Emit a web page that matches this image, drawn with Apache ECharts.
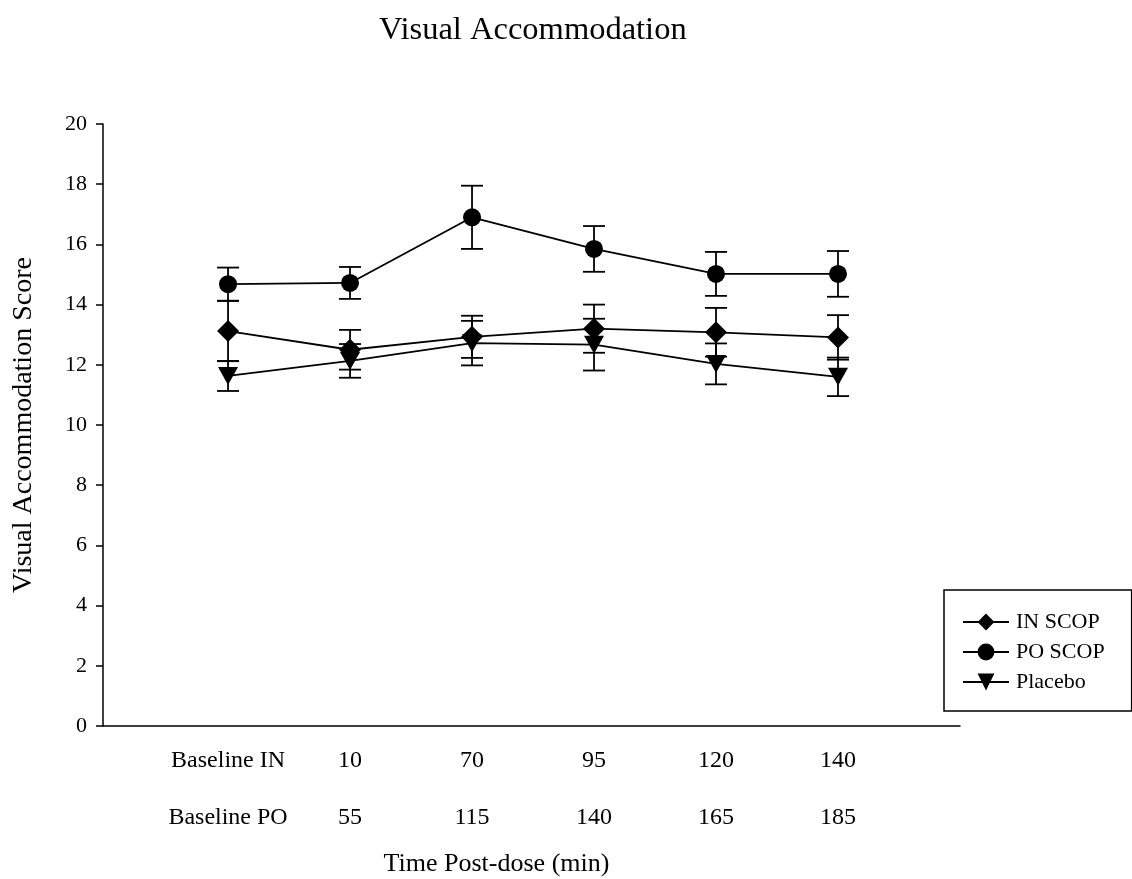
<!DOCTYPE html>
<html>
<head>
<meta charset="utf-8">
<script src="https://cdn.jsdelivr.net/npm/echarts@6/dist/echarts.min.js"></script>
<style>
  html, body { margin: 0; padding: 0; background: #fff; }
  #chart { width: 1132px; height: 879px; }
</style>
</head>
<body>
<div id="chart"></div>
<script>
// Time points (two dosing schedules share each position)
const timesIN = ['Baseline IN', '10', '70', '95', '120', '140'];
const timesPO = ['Baseline PO', '55', '115', '140', '165', '185'];

// Mean visual accommodation scores and error half-widths
const inScop = [13.12, 12.50, 12.93, 13.20, 13.08, 12.91];
const inScopErr = [1.00, 0.66, 0.70, 0.80, 0.81, 0.74];
const poScop = [14.68, 14.72, 16.90, 15.85, 15.02, 15.02];
const poScopErr = [0.55, 0.53, 1.05, 0.76, 0.73, 0.76];
const placebo = [11.63, 12.13, 12.72, 12.67, 12.03, 11.60];
const placeboErr = [0.50, 0.56, 0.74, 0.86, 0.68, 0.64];

const yTicks = [0, 2, 4, 6, 8, 10, 12, 14, 16, 18, 20];

const FONT = '"Liberation Serif", "DejaVu Serif", serif';
const TRIANGLE_DOWN = 'path://M0,0 L20,0 L10,18 Z';
const STROKE = 1.8;

const positions = timesIN.map((_, i) => i + 1);

function lineData(values) {
  return values.map((v, i) => [positions[i], v]);
}
function errData(values, errs) {
  return values.map((v, i) => [positions[i], v - errs[i], v + errs[i]]);
}

function errorBarSeries(name, values, errs) {
  return {
    type: 'custom',
    name: name + ' error',
    z: 1,
    silent: true,
    data: errData(values, errs),
    renderItem: function (params, api) {
      const x = api.value(0);
      const lo = api.coord([x, api.value(1)]);
      const hi = api.coord([x, api.value(2)]);
      const half = 11;
      const style = { stroke: '#000', lineWidth: STROKE };
      return {
        type: 'group',
        children: [
          { type: 'line', shape: { x1: lo[0], y1: lo[1], x2: hi[0], y2: hi[1] }, style: style },
          { type: 'line', shape: { x1: hi[0] - half, y1: hi[1], x2: hi[0] + half, y2: hi[1] }, style: style },
          { type: 'line', shape: { x1: lo[0] - half, y1: lo[1], x2: lo[0] + half, y2: lo[1] }, style: style }
        ]
      };
    }
  };
}

function lineSeries(name, values, symbol, size) {
  return {
    type: 'line',
    name: name,
    z: 3,
    data: lineData(values),
    symbol: symbol,
    symbolSize: size,
    showAllSymbol: true,
    lineStyle: { color: '#000', width: STROKE },
    itemStyle: { color: '#000', borderWidth: 0 },
    emphasis: { disabled: true }
  };
}

const chart = echarts.init(document.getElementById('chart'), null, { renderer: 'canvas' });

chart.setOption({
  backgroundColor: '#fff',
  animation: false,
  title: {
    text: 'Visual Accommodation',
    left: 374,
    top: 9,
    textStyle: { fontFamily: FONT, fontSize: 32.5, fontWeight: 'normal', color: '#000' }
  },
  legend: {
    orient: 'vertical',
    left: 944,
    top: 590,
    width: 180,
    padding: [21, 27, 18, 18],
    itemGap: 8,
    itemWidth: 46,
    itemHeight: 21,
    borderColor: '#000',
    borderWidth: 1.5,
    data: ['IN SCOP', 'PO SCOP', 'Placebo'],
    textStyle: { fontFamily: FONT, fontSize: 22, color: '#000', padding: [0, 0, 0, 2] }
  },
  grid: {
    left: 103, right: 172, top: 124, bottom: 153,
    containLabel: false,
    outerBoundsMode: 'none'
  },
  xAxis: {
    type: 'value',
    min: -0.025,
    max: 7,
    name: 'Time Post-dose (min)',
    nameLocation: 'middle',
    nameGap: 125,
    nameTextStyle: { fontFamily: FONT, fontSize: 26, color: '#000', padding: [0, 70, 0, 0] },
    axisLine: { show: true, onZero: false, lineStyle: { color: '#000', width: 1.5 } },
    axisTick: { show: false },
    splitLine: { show: false },
    axisLabel: {
      customValues: positions,
      margin: 20,
      fontFamily: FONT,
      fontSize: 24,
      color: '#000',
      lineHeight: 28.5,
      formatter: function (v) {
        const i = Math.round(v) - 1;
        return timesIN[i] + '\n\n' + timesPO[i];
      }
    }
  },
  yAxis: {
    type: 'value',
    min: yTicks[0],
    max: yTicks[yTicks.length - 1],
    interval: 2,
    name: 'Visual Accommodation Score',
    nameLocation: 'middle',
    nameGap: 65,
    nameTextStyle: { fontFamily: FONT, fontSize: 28, color: '#000' },
    axisLine: { show: true, onZero: false, lineStyle: { color: '#000', width: 1.5 } },
    axisTick: { show: true, inside: false, length: 7, lineStyle: { color: '#000', width: 1.5 } },
    splitLine: { show: false },
    axisLabel: { margin: 16, fontFamily: FONT, fontSize: 22, color: '#000' }
  },
  series: [
    errorBarSeries('IN SCOP', inScop, inScopErr),
    errorBarSeries('PO SCOP', poScop, poScopErr),
    errorBarSeries('Placebo', placebo, placeboErr),
    lineSeries('IN SCOP', inScop, 'diamond', 22),
    lineSeries('PO SCOP', poScop, 'circle', 18),
    lineSeries('Placebo', placebo, TRIANGLE_DOWN, [20, 18])
  ]
});
</script>
</body>
</html>
